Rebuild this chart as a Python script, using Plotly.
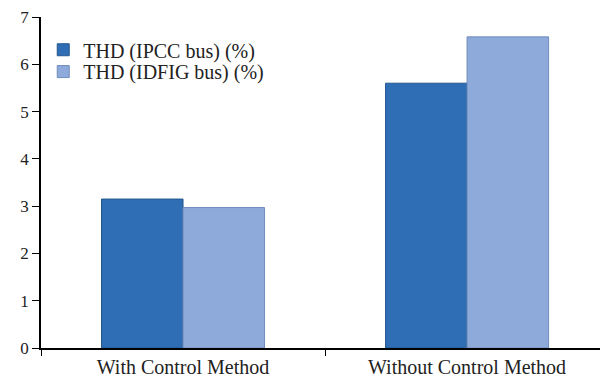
import plotly.graph_objects as go

categories = ["With Control Method", "Without Control Method"]
ipcc_values = [3.15, 5.6]
idfig_values = [2.97, 6.58]
series_names = ["THD (IPCC bus) (%)", "THD (IDFIG bus) (%)"]
y_ticks = [0, 1, 2, 3, 4, 5, 6, 7]

font_family = "Liberation Serif, DejaVu Serif, serif"

fig = go.Figure()
fig.add_trace(go.Bar(
    x=categories, y=ipcc_values, name=series_names[0], legend="legend",
    marker=dict(color="#2F6DB5", line=dict(color="#24588F", width=1)),
))
fig.add_trace(go.Bar(
    x=categories, y=idfig_values, name=series_names[1], legend="legend2",
    marker=dict(color="#8DAADA", line=dict(color="#6F8CBB", width=1)),
))

leg_common = dict(xanchor="left", yanchor="top", bgcolor="rgba(0,0,0,0)",
                  font=dict(size=20, family=font_family), itemwidth=30)

fig.update_layout(
    width=600, height=383,
    margin=dict(l=41, r=0, t=17, b=35),
    paper_bgcolor="white", plot_bgcolor="white",
    barmode="group", bargap=0.426, bargroupgap=0,
    font=dict(family=font_family, size=15, color="#222"),
    showlegend=True,
    legend=dict(x=0.004, y=0.96, **leg_common),
    legend2=dict(x=0.004, y=0.894, **leg_common),
    xaxis=dict(
        range=[-0.5, 1.468], showline=True, linecolor="black", linewidth=1.5,
        ticks="outside", tickson="boundaries", ticklen=6, tickcolor="black",
        showgrid=False, tickfont=dict(size=20, family=font_family), automargin=False,
    ),
    yaxis=dict(
        range=[0, 7], tickvals=y_ticks, showline=True, linecolor="black", linewidth=1.5,
        ticks="outside", ticklen=7, tickcolor="black", showgrid=False, zeroline=False,
        tickfont=dict(size=17, family=font_family), automargin=False,
    ),
)

fig.write_html("out.html", config={"displayModeBar": False},
               post_script="document.body.style.margin='0';document.body.style.overflow='hidden';")
